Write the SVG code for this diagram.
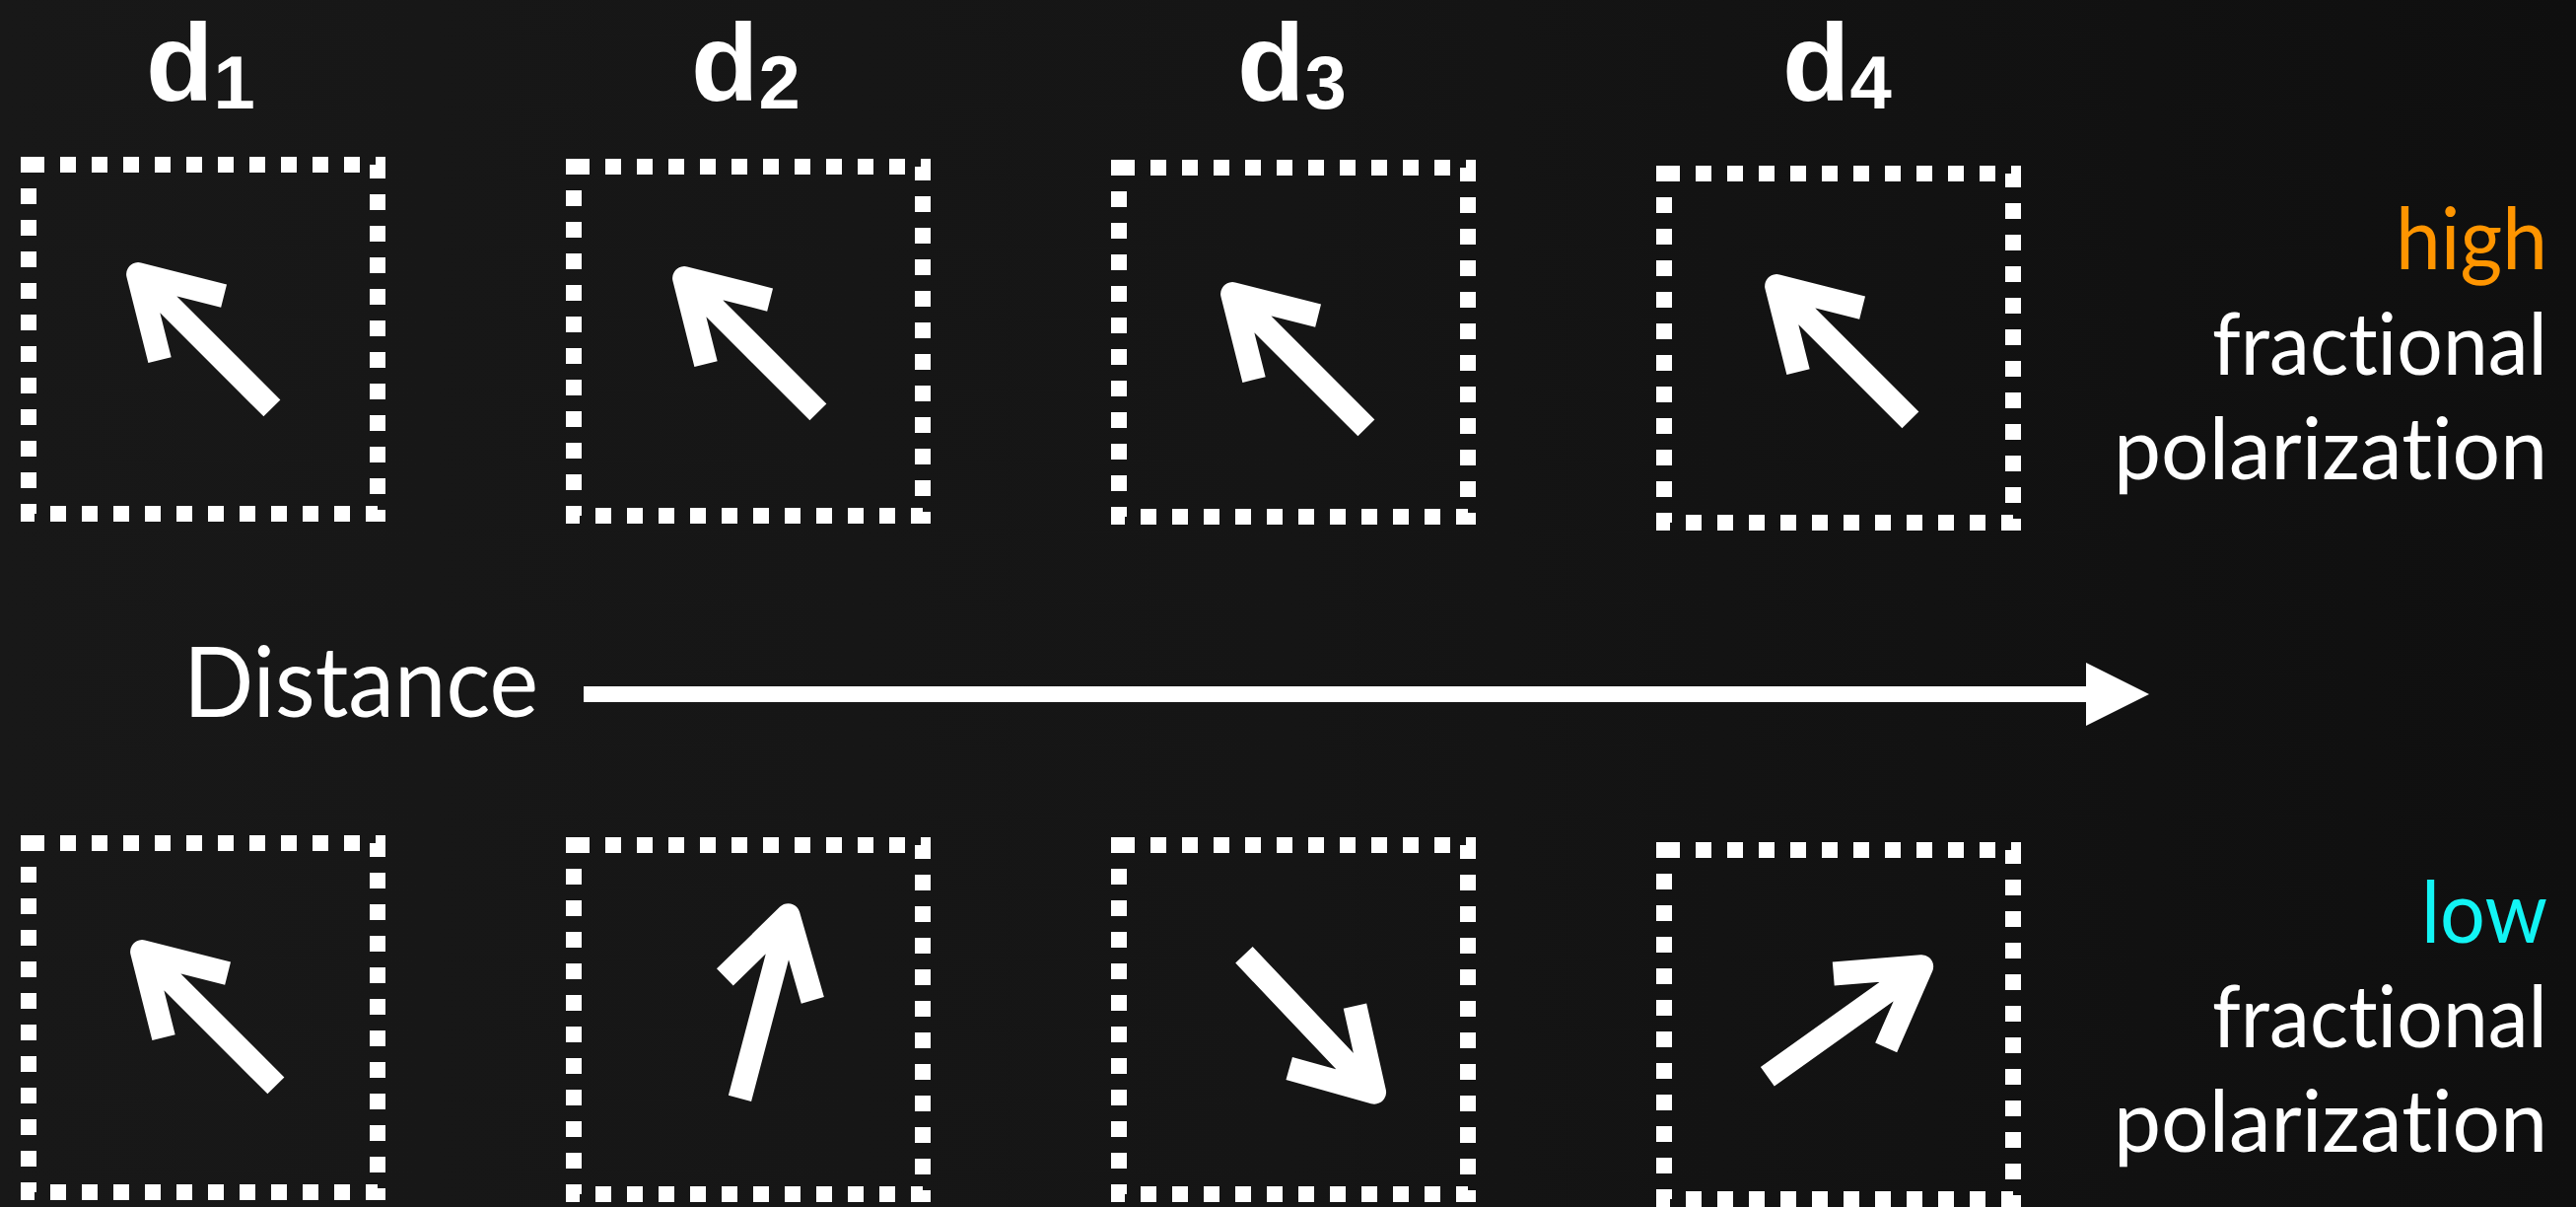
<svg xmlns="http://www.w3.org/2000/svg" xmlns:xlink="http://www.w3.org/1999/xlink" width="2613" height="1224" viewBox="0 0 2613 1224">
<style>
.box{fill:none;stroke:#fff;stroke-width:16;stroke-dasharray:16 16}
.lbl{font-family:"Liberation Sans",Arial,sans-serif;font-weight:bold;font-size:112px;fill:#fff}
.sub{font-size:76px}
.side{font-family:Lato,"Liberation Sans",sans-serif;font-size:88px;fill:#fff;text-anchor:end;font-variant-ligatures:none}
.dist{font-family:Lato,"Liberation Sans",sans-serif;font-size:98px;fill:#fff;font-variant-ligatures:none}
</style>
<defs>
<linearGradient id="bg" x1="0" y1="0" x2="1" y2="0">
<stop offset="0" stop-color="#181818"/>
<stop offset="0.5" stop-color="#151515"/>
<stop offset="1" stop-color="#0f0f0f"/>
</linearGradient>
<g id="arr"><path d="M-96,0 H96 M19,-46 L96,0 L19,46" fill="none" stroke="#fff" stroke-width="24" stroke-linejoin="round" stroke-linecap="butt"/></g>
<marker id="head" markerUnits="userSpaceOnUse" markerWidth="64" markerHeight="64" refX="0" refY="32" orient="auto" viewBox="0 0 64 64">
<path d="M0,0 L64,32 L0,64 Z" fill="#fff"/>
</marker>
</defs>
<rect width="2613" height="1224" fill="url(#bg)"/>

<g id="label-d1"><text class="lbl" x="148" y="102">d<tspan class="sub" dy="8">1</tspan></text></g>
<g id="label-d2"><text class="lbl" x="701" y="102">d<tspan class="sub" dy="8">2</tspan></text></g>
<g id="label-d3"><text class="lbl" x="1255" y="102">d<tspan class="sub" dy="8">3</tspan></text></g>
<g id="label-d4"><text class="lbl" x="1808" y="102">d<tspan class="sub" dy="8">4</tspan></text></g>

<g id="high-d1"><rect class="box" x="29" y="167" width="354" height="354"/><use xlink:href="#arr" transform="translate(208,346) rotate(-135)"/></g>
<g id="high-d2"><rect class="box" x="582" y="169" width="354" height="354"/><use xlink:href="#arr" transform="translate(762,350) rotate(-135)"/></g>
<g id="high-d3"><rect class="box" x="1135" y="170" width="354" height="354"/><use xlink:href="#arr" transform="translate(1318,366) rotate(-135)"/></g>
<g id="high-d4"><rect class="box" x="1688" y="176" width="354" height="354"/><use xlink:href="#arr" transform="translate(1870,358) rotate(-135)"/></g>

<g id="low-d1"><rect class="box" x="29" y="855" width="354" height="354"/><use xlink:href="#arr" transform="translate(212,1033) rotate(-135)"/></g>
<g id="low-d2"><rect class="box" x="582" y="857" width="354" height="354"/><use xlink:href="#arr" transform="translate(775,1021) rotate(-75.2)"/></g>
<g id="low-d3"><rect class="box" x="1135" y="857" width="354" height="354"/><use xlink:href="#arr" transform="translate(1328,1038) rotate(46.5)"/></g>
<g id="low-d4"><rect class="box" x="1688" y="862" width="354" height="354"/><use xlink:href="#arr" transform="translate(1871,1036) rotate(-35.5)"/></g>

<g id="high-label">
<text class="side" x="2584" y="273" style="fill:#ff9500" textLength="154" lengthAdjust="spacingAndGlyphs">high</text>
<text class="side" x="2584" y="380" textLength="340" lengthAdjust="spacingAndGlyphs">fractional</text>
<text class="side" x="2584" y="486" textLength="440" lengthAdjust="spacingAndGlyphs">polarization</text>
</g>
<g id="low-label">
<text class="side" x="2584" y="956" style="fill:#12f4f4" textLength="128" lengthAdjust="spacingAndGlyphs">low</text>
<text class="side" x="2584" y="1062" textLength="340" lengthAdjust="spacingAndGlyphs">fractional</text>
<text class="side" x="2584" y="1168" textLength="440" lengthAdjust="spacingAndGlyphs">polarization</text>
</g>

<g id="distance-label"><text class="dist" x="186" y="727" textLength="360" lengthAdjust="spacingAndGlyphs">Distance</text></g>

<g id="connectors">
<path d="M592,704 H2116" stroke="#fff" stroke-width="16" fill="none" marker-end="url(#head)"/>
</g>
</svg>
